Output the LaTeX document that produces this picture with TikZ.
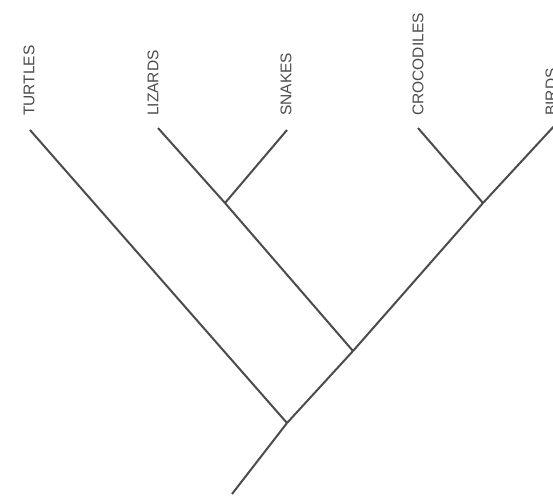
\documentclass[tikz,border=0pt]{standalone}
\usepackage{fontspec}
\setmainfont{Liberation Sans}
\begin{document}
\begin{tikzpicture}[x=1pt,y=-1pt,
  branch/.style={draw=black!70,line width=2pt},
  taxon/.style={rotate=90,anchor=west,inner sep=0pt,text=black!70,font=\fontsize{15.5}{16}\selectfont}]
\useasboundingbox (0,0) rectangle (553,498);
\fill[white] (0,0) rectangle (553,498);
% joints and tips
\coordinate (root) at (232,494);
\coordinate (j1) at (287,423);
\coordinate (j2) at (353,351);
\coordinate (j3) at (225,203);
\coordinate (j4) at (483,203);
\coordinate (tTur) at (30,130);
\coordinate (tLiz) at (158,128);
\coordinate (tSna) at (287,130);
\coordinate (tCro) at (418,128);
\coordinate (tBir) at (556,124);
% labels
\node[taxon] (lTur) at (29,116) {TURTLES};
\node[taxon] (lLiz) at (153,116) {LIZARDS};
\node[taxon] (lSna) at (286,116) {SNAKES};
\node[taxon] (lCro) at (418,116) {CROCODILES};
\node[taxon] (lBir) at (551,116) {BIRDS};
% branches
\draw[branch] (root) -- (j1);
\draw[branch] (j1) -- (tTur);
\draw[branch] (j1) -- (j2);
\draw[branch] (j2) -- (j3);
\draw[branch] (j3) -- (tLiz);
\draw[branch] (j3) -- (tSna);
\draw[branch] (j2) -- (j4);
\draw[branch] (j4) -- (tCro);
\draw[branch] (j4) -- (tBir);
\end{tikzpicture}
\end{document}
